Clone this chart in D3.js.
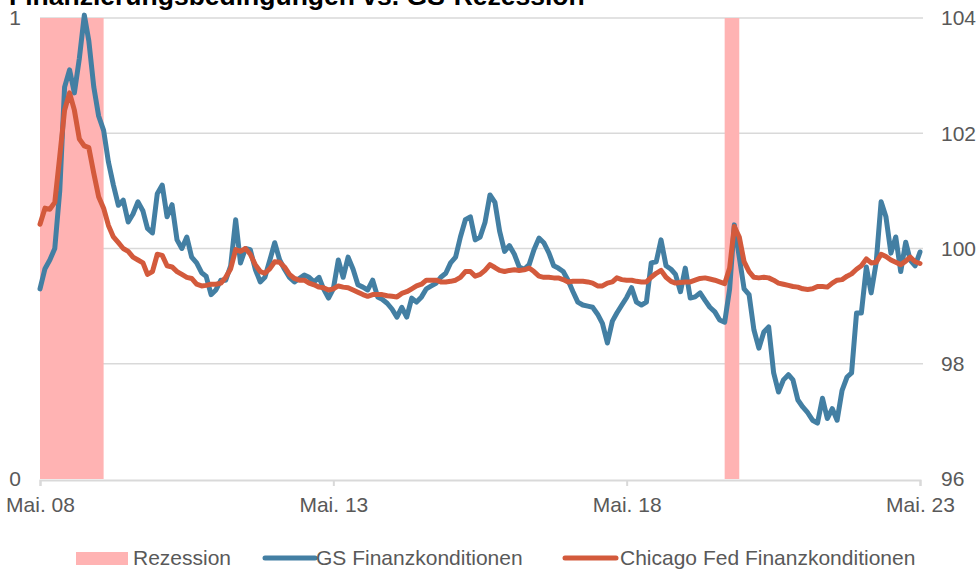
<!DOCTYPE html>
<html lang="de">
<head>
<meta charset="UTF-8">
<title>Finanzierungsbedingungen vs. GS-Rezession</title>
<script src="https://cdn.jsdelivr.net/npm/d3@7/dist/d3.min.js"></script>
<style>
  body { margin: 0; background: #fff; }
  text { font-family: "Liberation Sans", Arial, sans-serif; }
</style>
</head>
<body>
<script>
// Monatswerte ab Mai 2008 bis Mai 2023
var startMonth = new Date(2008, 4, 1);
var endMonth = new Date(2023, 4, 1);

var gsFci = [
  99.3, 99.65, 99.8, 100.0, 101.0, 102.8, 103.1, 102.7, 103.3, 104.05,
  103.6, 102.8, 102.3, 102.05, 101.5, 101.1, 100.75, 100.84, 100.46, 100.6,
  100.81, 100.65, 100.35, 100.27, 100.95, 101.1, 100.55, 100.76, 100.15, 100.0,
  100.2, 99.85, 99.75, 99.58, 99.52, 99.2, 99.28, 99.45, 99.45, 99.7,
  100.5, 99.75, 100.0, 99.98, 99.64, 99.42, 99.5, 99.8, 100.1, 99.8,
  99.64, 99.5, 99.42, 99.48, 99.54, 99.5, 99.42, 99.5, 99.3, 99.14,
  99.3, 99.8, 99.5, 99.85, 99.64, 99.37, 99.33, 99.28, 99.45, 99.16,
  99.12, 99.05, 98.95, 98.81, 98.98, 98.81, 99.14, 99.07, 99.16, 99.3,
  99.35, 99.4, 99.5, 99.57, 99.75, 99.85, 100.2, 100.5, 100.55, 100.15,
  100.2, 100.45, 100.93, 100.8, 100.3, 99.95, 100.05, 99.9, 99.68, 99.64,
  99.72, 99.98, 100.18, 100.1, 99.93, 99.7, 99.66, 99.6, 99.45, 99.25,
  99.07, 99.02, 99.0, 98.98, 98.86, 98.7, 98.36, 98.74, 98.88, 99.02,
  99.15, 99.32, 99.07, 99.02, 99.07, 99.75, 99.77, 100.15, 99.7, 99.64,
  99.55, 99.25, 99.66, 99.14, 99.16, 99.23, 99.1, 98.98, 98.9, 98.76,
  98.72, 99.3, 100.41, 99.85, 99.3, 99.2, 98.59, 98.27, 98.55, 98.64,
  97.84, 97.51, 97.72, 97.81, 97.72, 97.37, 97.25, 97.15, 97.02, 96.97,
  97.4, 97.05, 97.22, 97.02, 97.54, 97.77, 97.84, 98.88, 98.88, 99.68,
  99.23, 99.75, 100.81, 100.55, 99.92, 100.2, 99.6, 100.11, 99.8, 99.7,
  99.94
];

var chicagoFci = [
  100.42, 100.7, 100.68, 100.8, 101.6, 102.4, 102.7, 102.4, 101.9, 101.78,
  101.75, 101.3, 100.9, 100.7, 100.4, 100.2, 100.1, 100.0, 99.95, 99.85,
  99.8, 99.75, 99.55, 99.6, 99.9, 99.88, 99.7, 99.68, 99.6, 99.55,
  99.5, 99.48, 99.38, 99.35, 99.36, 99.38, 99.38, 99.4, 99.5, 99.65,
  99.98, 99.95, 100.0, 99.9, 99.72, 99.6, 99.57, 99.65, 99.77, 99.76,
  99.68, 99.55, 99.48, 99.45, 99.45, 99.4, 99.37, 99.33, 99.32, 99.28,
  99.3, 99.35, 99.33, 99.32, 99.28, 99.24, 99.2, 99.17, 99.2, 99.2,
  99.2, 99.18, 99.17, 99.16, 99.22, 99.25, 99.3, 99.35, 99.38, 99.45,
  99.45, 99.45, 99.42, 99.42, 99.43, 99.45, 99.5, 99.6, 99.6, 99.52,
  99.55, 99.62, 99.72, 99.67, 99.62, 99.6, 99.62, 99.63, 99.62, 99.63,
  99.66, 99.6, 99.52, 99.5, 99.5, 99.49, 99.49, 99.46, 99.42, 99.43,
  99.43, 99.43, 99.42, 99.4, 99.35, 99.35, 99.4, 99.42, 99.49, 99.46,
  99.45, 99.45, 99.43, 99.42, 99.42, 99.5, 99.57, 99.62, 99.5, 99.43,
  99.4, 99.41, 99.42, 99.42, 99.45, 99.48, 99.49, 99.47, 99.45, 99.42,
  99.39, 99.66, 100.38, 100.2, 99.77, 99.6, 99.5, 99.49, 99.5, 99.49,
  99.45, 99.4, 99.38, 99.36, 99.34, 99.33, 99.3, 99.29, 99.3, 99.34,
  99.34, 99.33, 99.4, 99.45, 99.46, 99.52, 99.56, 99.64, 99.7, 99.82,
  99.75, 99.76, 99.9, 99.86, 99.8, 99.76, 99.72, 99.78, 99.85, 99.77,
  99.74
];

// Rezessionsphasen (erster und letzter Monat)
var recessions = [
  [new Date(2008, 4, 1), new Date(2009, 4, 1)],
  [new Date(2020, 0, 1), new Date(2020, 2, 1)]
];

var xTicks = [new Date(2008, 4, 1), new Date(2013, 4, 1), new Date(2018, 4, 1), new Date(2023, 4, 1)];
var rightTicks = [96, 98, 100, 102, 104];
var leftTicks = [0, 1];
var legendLabels = ["Rezession", "GS Finanzkonditionen", "Chicago Fed Finanzkonditionen"];

var months = d3.timeMonth.range(startMonth, d3.timeMonth.offset(endMonth, 1));

var width = 979, height = 571;
var plotLeft = 40, plotRight = 920, plotTop = 18, plotBottom = 479;

var svg = d3.select("body").append("svg").attr("width", width).attr("height", height);

var x = d3.scaleTime().domain([startMonth, endMonth]).range([plotLeft, plotRight]);
var yR = d3.scaleLinear().domain([96, 104]).range([plotBottom, plotTop]);
var yL = d3.scaleLinear().domain([0, 1]).range([plotBottom, plotTop]);

// Titel (oben angeschnitten wie im Original)
svg.append("text")
  .attr("x", 9).attr("y", 5)
  .attr("font-size", "26.5px").attr("font-weight", "bold").attr("fill", "#000")
  .text("Finanzierungsbedingungen vs. GS-Rezession");

// Gitterlinien
svg.append("g").selectAll("line")
  .data(rightTicks.filter(function(d) { return d > 96; }))
  .enter().append("line")
  .attr("x1", plotLeft).attr("x2", plotRight + 3)
  .attr("y1", function(d) { return yR(d); }).attr("y2", function(d) { return yR(d); })
  .attr("stroke", "#d9d9d9").attr("stroke-width", 1.5);

// Rezession
svg.append("g").selectAll("rect")
  .data(recessions)
  .enter().append("rect")
  .attr("x", function(d) { return x(d[0]); })
  .attr("width", function(d) { return x(d3.timeMonth.offset(d[1], 1)) - x(d[0]); })
  .attr("y", yL(1))
  .attr("height", yL(0) - yL(1))
  .attr("fill", "#ffb3b3");

// x-Achse
var xAxis = svg.append("g")
  .attr("transform", "translate(0," + (plotBottom + 1) + ")")
  .call(d3.axisBottom(x).tickValues(xTicks).tickSize(6).tickPadding(11)
    .tickFormat(function(d) { return "Mai. " + d3.timeFormat("%y")(d); }));
xAxis.select(".domain").attr("stroke", "#d9d9d9").attr("stroke-width", 2);
xAxis.selectAll(".tick line").attr("stroke", "#d9d9d9").attr("stroke-width", 2);
xAxis.selectAll(".tick text").attr("fill", "#595959").attr("font-size", "21px")
  .attr("font-family", "'Liberation Sans', Arial, sans-serif");

// Linke Achse
svg.append("g").selectAll("text")
  .data(leftTicks)
  .enter().append("text")
  .attr("x", 21).attr("y", function(d) { return yL(d); })
  .attr("dy", "0.35em").attr("text-anchor", "end")
  .attr("font-size", "21px").attr("fill", "#595959")
  .text(function(d) { return d; });

// Rechte Achse
svg.append("g").selectAll("text")
  .data(rightTicks)
  .enter().append("text")
  .attr("x", 941).attr("y", function(d) { return yR(d); })
  .attr("dy", "0.35em").attr("text-anchor", "start")
  .attr("font-size", "21px").attr("fill", "#595959")
  .text(function(d) { return d; });

// Linien
var line = d3.line()
  .x(function(d, i) { return x(months[i]); })
  .y(function(d) { return yR(d); });

svg.append("path")
  .datum(gsFci)
  .attr("d", line)
  .attr("fill", "none").attr("stroke", "#437fa3").attr("stroke-width", 5)
  .attr("stroke-linejoin", "round").attr("stroke-linecap", "round");

svg.append("path")
  .datum(chicagoFci)
  .attr("d", line)
  .attr("fill", "none").attr("stroke", "#d35a3c").attr("stroke-width", 5)
  .attr("stroke-linejoin", "round").attr("stroke-linecap", "round");

// Legende
var legendY = 558;
var legend = svg.append("g");
legend.append("rect").attr("x", 76).attr("y", legendY - 6).attr("width", 52).attr("height", 13).attr("fill", "#ffb3b3");
legend.append("line").attr("x1", 265).attr("x2", 315).attr("y1", legendY).attr("y2", legendY)
  .attr("stroke", "#437fa3").attr("stroke-width", 5).attr("stroke-linecap", "round");
legend.append("line").attr("x1", 565).attr("x2", 616).attr("y1", legendY).attr("y2", legendY)
  .attr("stroke", "#d35a3c").attr("stroke-width", 5).attr("stroke-linecap", "round");

var legendX = [133, 316, 620];
legend.selectAll("text")
  .data(legendLabels)
  .enter().append("text")
  .attr("x", function(d, i) { return legendX[i]; })
  .attr("y", legendY).attr("dy", "0.35em")
  .attr("font-size", "21px").attr("fill", "#595959")
  .text(function(d) { return d; });
</script>
</body>
</html>
